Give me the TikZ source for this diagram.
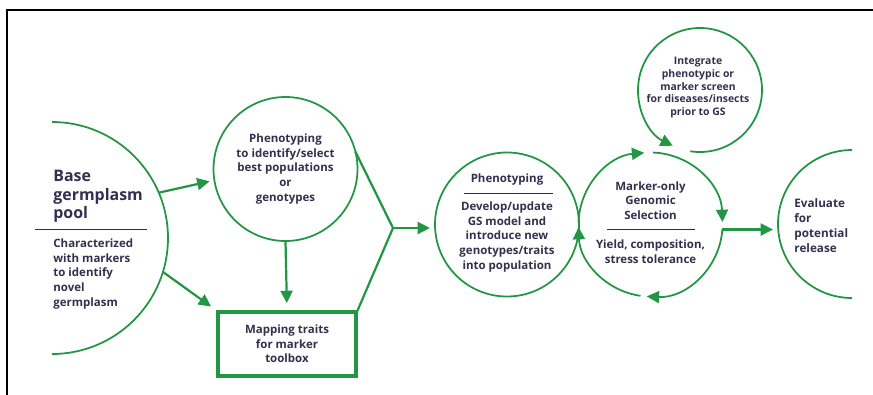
\documentclass[tikz,border=0pt]{standalone}
\usepackage{fontspec}
\setmainfont{Open Sans}
\usetikzlibrary{arrows.meta, calc}
\definecolor{gsgreen}{RGB}{34,150,68}
\definecolor{gstext}{RGB}{52,47,78}

\begin{document}
\begin{tikzpicture}[
  gline/.style={draw=gsgreen, line width=1.9pt},
  garc/.style={draw=gsgreen, line width=1.5pt},
  garr/.style={gline, -{Triangle[length=0.37cm, width=0.36cm]}, shorten >=0.15cm},
  gtip/.style={garc, -{Triangle[length=0.37cm, width=0.36cm]}},
  ring/.style={circle, inner sep=0pt, outer sep=0pt},
  gsbox/.style={draw=gsgreen, line width=2.7pt, align=center, minimum width=4.14cm, minimum height=1.92cm, inner sep=2pt},
  lab/.style={text=gstext, font=\bfseries\fontsize{9.8}{12.5}\selectfont, align=center, inner sep=1pt},
  labs/.style={lab, font=\bfseries\fontsize{8.9}{10.9}\selectfont},
  head/.style={lab, font=\bfseries\fontsize{13.6}{15.8}\selectfont, align=left},
  rule/.style={draw=black!80, line width=0.8pt}
]
\useasboundingbox (0,0) rectangle (26.19,-11.82);

%--------------------------------------------------------------
% Cornice
%--------------------------------------------------------------
\draw[line width=1.7pt] (0.21,-12.0) -- (0.21,-0.30) -- (26.40,-0.30);

%--------------------------------------------------------------
% Base germplasm pool (mezzo cerchio)
%--------------------------------------------------------------
\node[ring, minimum size=6.96cm] (pool) at (1.56,-7.14) {};
\draw[garc] (pool.north) arc[start angle=90, end angle=-90, radius=3.48];
\node[head, anchor=west] (pooltit) at (1.56,-5.90) {Base\\ germplasm\\ pool};
\draw[rule] (1.05,-6.87) -- (4.41,-6.87);
\node[lab, anchor=west, align=left] (pooltxt) at (1.56,-8.22)
  {Characterized\\ with markers\\ to identify\\ novel\\ germplasm};

%--------------------------------------------------------------
% Fenotipizzazione e mappatura
%--------------------------------------------------------------
\node[ring, garc, minimum size=4.32cm, lab] (sel) at (8.565,-5.07)
  {Phenotyping\\ to identify/select\\ best populations\\ or\\ genotypes};
\node[gsbox, lab] (map) at (8.61,-10.32) {Mapping traits\\ for marker\\ toolbox};

\draw[garr] (pool.23) -- (sel.189);
\draw[garr, shorten >=0.2cm] (pool.-17) -- (map.north west);
\draw[garr, shorten >=0.22cm] (sel.south) -- (map.north);

\coordinate (jn) at (11.79,-6.84);
\draw[gline, line join=round] (sel.14) -- (jn) -- (map.north east);

%--------------------------------------------------------------
% Ciclo di selezione genomica
%--------------------------------------------------------------
\node[ring, garc, minimum size=4.32cm] (upd) at (15.21,-6.735) {};
\node[lab] (updtit) at (15.21,-5.40) {Phenotyping};
\draw[rule] (13.92,-5.79) -- (16.59,-5.79);
\node[lab] (updtxt) at (15.21,-7.11)
  {Develop/update\\ GS model and\\ introduce new\\ genotypes/traits\\ into population};

\draw[garr] (jn) -- (jn -| upd.west);

\node[ring, minimum size=4.32cm] (gs) at (19.515,-6.735) {};
\foreach \a/\b in {262/182, 178/95, 88/2, -4/-93}{
  \draw[gtip] ($(gs)+(\a:2.16)$) arc[start angle=\a, end angle=\b, radius=2.16];
}
\node[lab] (gstit) at (19.515,-6.015) {Marker-only\\ Genomic\\ Selection};
\draw[rule] (18.21,-6.87) -- (20.85,-6.87);
\node[lab] (gstxt) at (19.515,-7.545) {Yield, composition,\\ stress tolerance};

% screening prima della GS
\node[ring, minimum size=3.72cm] (scr) at (21.0,-2.70) {};
\draw[gtip] ($(scr)+(-99:1.86)$) arc[start angle=-99, end angle=244, radius=1.86];
\node[labs] (scrtxt) at (20.94,-2.63)
  {Integrate\\ phenotypic or\\ marker screen\\ for diseases/insects\\ prior to GS};

%--------------------------------------------------------------
% Valutazione finale
%--------------------------------------------------------------
\node[ring, minimum size=4.44cm] (eva) at (25.56,-6.72) {};
\draw[garc] (eva.north) arc[start angle=90, end angle=270, radius=2.22];
\node[lab, anchor=west, align=left, font=\bfseries\fontsize{10}{12.8}\selectfont] (evatxt) at (23.79,-6.77)
  {Evaluate\\ for\\ potential\\ release};

\draw[garr] (gs.-4) -- (gs.-4 -| eva.west);

\end{tikzpicture}
\end{document}
